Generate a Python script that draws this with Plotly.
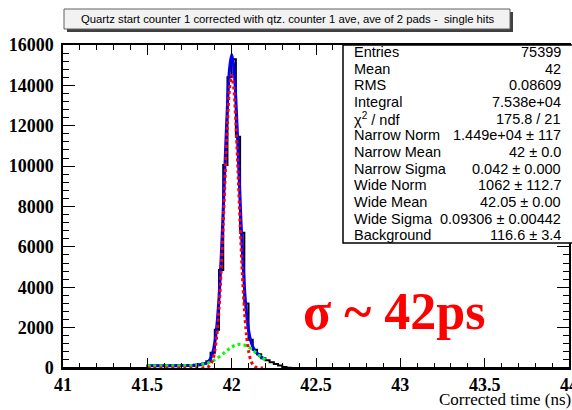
import numpy as np
import plotly.graph_objects as go

# ---------------- data ----------------
bin_lo = 41.5
bin_width = 0.025
counts = [120, 110, 125, 115, 130, 120, 125, 135, 130, 140,
          145, 160, 170, 220, 330, 750,
          1900, 4850, 10050, 14400, 15300, 11450, 6700, 3200, 1400, 900,
          680, 480, 380, 290, 200, 120, 50, 10]

fit_x = [41.5, 41.525, 41.55, 41.575, 41.6, 41.625, 41.65, 41.675, 41.7, 41.725,
         41.75, 41.775, 41.8, 41.825, 41.85,
         41.8625, 41.875, 41.8875, 41.9, 41.9125, 41.925, 41.9375, 41.95, 41.9625,
         41.975, 41.9875, 42.0, 42.0125, 42.025, 42.0375, 42.05, 42.0625, 42.075,
         42.0875, 42.1, 42.1125, 42.125, 42.1375, 42.15,
         42.175, 42.2]
fit_total = [117, 117, 117, 117, 117, 117, 117, 117, 118, 119, 122, 130, 145, 177, 247,
             324, 471, 749, 1258, 2128, 3490, 5417, 7847, 10526, 13022, 14826, 15526,
             14958, 13279, 10896, 8313, 5958, 4084, 2751, 1888, 1365, 1057, 867, 738,
             550, 406]
fit_narrow = [0, 0, 0, 0, 0, 0, 0, 0, 0, 0, 0, 0, 0, 3, 25,
              68, 173, 401, 852, 1655, 2943, 4789, 7134, 9727, 12138, 13862, 14490,
              13862, 12138, 9727, 7134, 4789, 2943, 1655, 852, 401, 173, 68, 25,
              3, 0]
fit_wide = [117, 117, 117, 117, 117, 117, 117, 117, 118, 119, 122, 130, 145, 174, 222,
            256, 298, 348, 406, 473, 547, 628, 713, 799, 884, 964, 1036,
            1096, 1141, 1169, 1179, 1169, 1141, 1096, 1036, 964, 884, 799, 713,
            547, 406]

stat_labels = ["Entries", "Mean", "RMS", "Integral", "χ<sup>2</sup> / ndf",
               "Narrow Norm", "Narrow Mean", "Narrow Sigma", "Wide Norm",
               "Wide Mean", "Wide Sigma", "Background"]
stat_values = ["75399", "42", "0.08609", "7.538e+04", "175.8 / 21",
               "1.449e+04 ± 117", "42 ± 0.0", "0.042 ± 0.000", "1062 ± 112.7",
               "42.05 ± 0.00", "0.09306 ± 0.00442", "116.6 ± 3.4"]

title_text = "Quartz start counter 1 corrected with qtz. counter 1 ave, ave of 2 pads -  single hits"
x_title = "Corrected time (ns)"
sigma_text = "σ ~ 42ps"
x_range = [41, 44]
y_range = [0, 16000]

# ---------------- layout geometry ----------------
W, H = 572, 410
ML, MR, MT, MB = 63, 3, 45, 42
PW, PH = W - ML - MR, H - MT - MB


def px(x):
    return (x - ML) / PW


def py(y):
    return (H - MB - y) / PH


# histogram step line
counts_arr = np.array(counts, dtype=float)
edges = bin_lo + bin_width * np.arange(len(counts_arr) + 1)
hx = np.concatenate([[x_range[0]], edges, [x_range[1]]])
hy = np.concatenate([[0.0], counts_arr, [0.0, 0.0]])

fig = go.Figure()
fig.add_trace(go.Scatter(x=hx, y=hy, mode="lines", line=dict(color="black", width=2, shape="hv"),
                         hoverinfo="skip", showlegend=False))
fig.add_trace(go.Scatter(x=fit_x, y=fit_total, mode="lines",
                         line=dict(color="#0000ff", width=3, shape="spline", smoothing=0.8),
                         showlegend=False))
fig.add_trace(go.Scatter(x=fit_x, y=fit_wide, mode="lines",
                         line=dict(color="#00ff00", width=3, dash="dot", shape="spline", smoothing=0.8),
                         showlegend=False))
fig.add_trace(go.Scatter(x=fit_x, y=fit_narrow, mode="lines",
                         line=dict(color="#ff0000", width=3, dash="dot", shape="spline", smoothing=0.8),
                         showlegend=False))

tickfont = dict(family="Liberation Serif", size=18, color="black", weight="bold")
fig.update_xaxes(range=x_range, dtick=0.5, tick0=41, ticks="inside", ticklen=10, tickwidth=1,
                 tickcolor="black", showline=True, linecolor="black", linewidth=1.5,
                 mirror="ticks", showgrid=False, zeroline=False, tickfont=tickfont,
                 ticklabeloverflow="allow",
                 minor=dict(dtick=0.1, ticks="inside", ticklen=5, tickcolor="black", showgrid=False))
fig.update_yaxes(range=y_range, dtick=2000, tick0=0, ticks="inside", ticklen=12, tickwidth=1,
                 tickcolor="black", showline=True, linecolor="black", linewidth=1.5,
                 mirror="ticks", showgrid=False, zeroline=False, tickfont=tickfont,
                 tickformat="d", ticklabelstandoff=4, ticklabeloverflow="allow",
                 minor=dict(dtick=400, ticks="inside", ticklen=6, tickcolor="black", showgrid=False))

shapes = [
    # title box shadow + box
    dict(type="rect", xref="paper", yref="paper", x0=px(67), x1=px(513), y0=py(32), y1=py(12),
         fillcolor="#404040", line=dict(width=0)),
    dict(type="rect", xref="paper", yref="paper", x0=px(64), x1=px(510), y0=py(29), y1=py(9),
         fillcolor="#f2f2f2", line=dict(color="#606060", width=1)),
    # stats box
    dict(type="rect", xref="paper", yref="paper", x0=px(343), x1=px(580), y0=py(243), y1=py(45),
         fillcolor="white", line=dict(color="black", width=1.5)),
]

annotations = [
    dict(text=title_text, xref="paper", yref="paper", x=px(288), y=py(19), showarrow=False,
         xanchor="center", yanchor="middle",
         font=dict(family="Liberation Sans", size=11.3, color="black")),
    dict(text=x_title, xref="paper", yref="paper", x=px(573), y=py(399), showarrow=False,
         xanchor="right", yanchor="middle",
         font=dict(family="Liberation Serif", size=17, color="black")),
    dict(text=sigma_text, x=42.965, y=2820, xref="x", yref="y", showarrow=False,
         xanchor="center", yanchor="middle",
         font=dict(family="Liberation Serif", size=52, color="#ff0000", weight="bold")),
]
for i, (lab, val) in enumerate(zip(stat_labels, stat_values)):
    yy = py(52 + i * 16.65)
    annotations.append(dict(text=lab, xref="paper", yref="paper", x=px(352), y=yy, showarrow=False,
                            xanchor="left", yanchor="middle",
                            font=dict(family="Liberation Sans", size=14.5, color="black")))
    annotations.append(dict(text=val, xref="paper", yref="paper", x=px(563), y=yy, showarrow=False,
                            xanchor="right", yanchor="middle",
                            font=dict(family="Liberation Sans", size=14.5, color="black")))

fig.update_layout(width=W, height=H, margin=dict(l=ML, r=MR, t=MT, b=MB, autoexpand=False),
                  paper_bgcolor="white", plot_bgcolor="white", shapes=shapes,
                  annotations=annotations, showlegend=False)

fig.write_html("out.html", config=dict(displayModeBar=False))
